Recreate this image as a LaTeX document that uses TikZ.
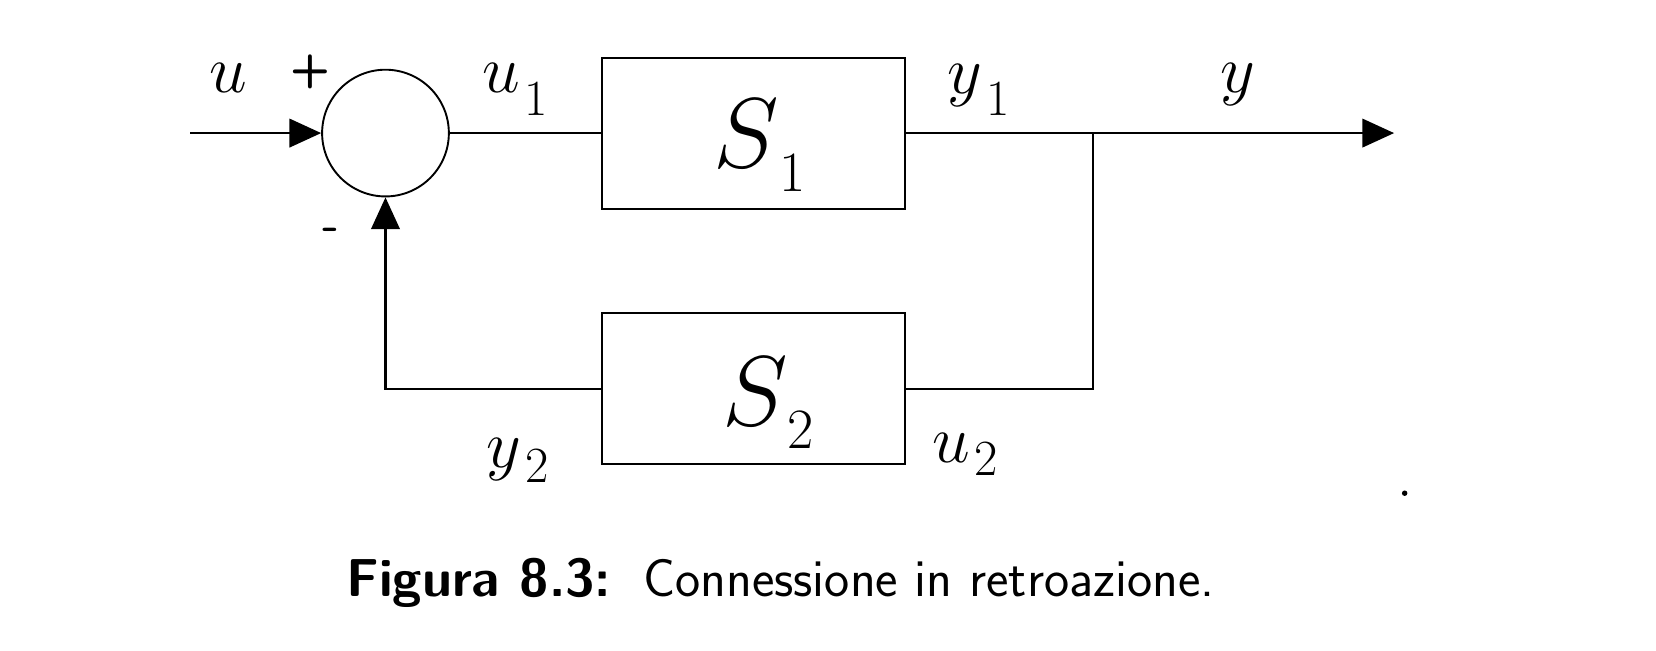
\RequirePackage{fix-cm}
\documentclass[tikz,border=0pt]{standalone}
\usepackage{fontspec}
\usetikzlibrary{arrows.meta}
\begin{document}
\begin{tikzpicture}[x=0.5pt,y=-0.5pt,line width=1pt,
  tip/.style={-{Triangle[length=15pt,width=13.5pt]}},
  blockbox/.style={draw,line width=1pt,minimum width=143.5pt,minimum height=71.5pt,inner sep=0},
  sumnode/.style={draw,circle,line width=0.9pt,minimum size=60pt,inner sep=0},
  lbl/.style={inner sep=0,anchor=base west,font=\fontsize{32}{36}\selectfont},
  biglbl/.style={inner sep=0,anchor=base west,font=\fontsize{47}{50}\selectfont},
  sgn/.style={inner sep=0,font=\sffamily\bfseries\fontsize{22}{24}\selectfont},
  captxt/.style={inner sep=0,anchor=base west,font=\sffamily\fontsize{25.3}{28}\selectfont}]
\useasboundingbox (0,0) rectangle (1568,615.5);
% blocks
\node[sumnode] (sum) at (365,126) {};
\node[blockbox] (s1) at (713.5,126) {};
\node[blockbox] (s2) at (713.5,368) {};
% connector points
\coordinate (in) at (180,126);
\coordinate (out) at (1320,126);
\coordinate (br) at (1035,126);
\coordinate (brd) at (1035,368);
\coordinate (fb) at (365,368);
% connectors
\draw[tip] (in) -- (sum.west);
\draw (sum.east) -- (s1.west);
\draw[tip] (s1.east) -- (out);
\draw (br) -- (brd) -- (s2.east);
\draw[tip] (s2.west) -- (fb) -- (sum.south);
% labels
\node[lbl] (lu) at (197,88) {$u$};
\node[sgn] (lplus) at (294,68) {+};
\node[sgn] (lminus) at (313,222) {-};
\node[lbl] (lu1) at (456,88) {$u$\kern2pt\raisebox{-10.5pt}{\fontsize{24}{28}\selectfont$1$}};
\node[lbl] (ly1) at (896,89) {$y$\kern2pt\raisebox{-10pt}{\fontsize{24}{28}\selectfont$1$}};
\node[lbl] (ly) at (1155,88) {$y$};
\node[lbl] (ly2) at (460,443) {$y$\kern2pt\raisebox{-7pt}{\fontsize{24}{28}\selectfont$2$}};
\node[lbl] (lu2) at (882,438) {$u$\kern2pt\raisebox{-6pt}{\fontsize{24}{28}\selectfont$2$}};
\node[biglbl] (ls1) at (675,159) {$S$\raisebox{-11pt}{\fontsize{27}{30}\selectfont$1$}};
\node[biglbl] (ls2) at (683,403) {$S$\raisebox{-11pt}{\fontsize{27}{30}\selectfont$2$}};
% stray dot
\fill (1330,467) circle (1.3pt);
% caption
\node[captxt] (cap) at (327,565) {\textbf{Figura 8.3:}\hspace{0.6em}Connessione in retroazione.};
\end{tikzpicture}
\end{document}
